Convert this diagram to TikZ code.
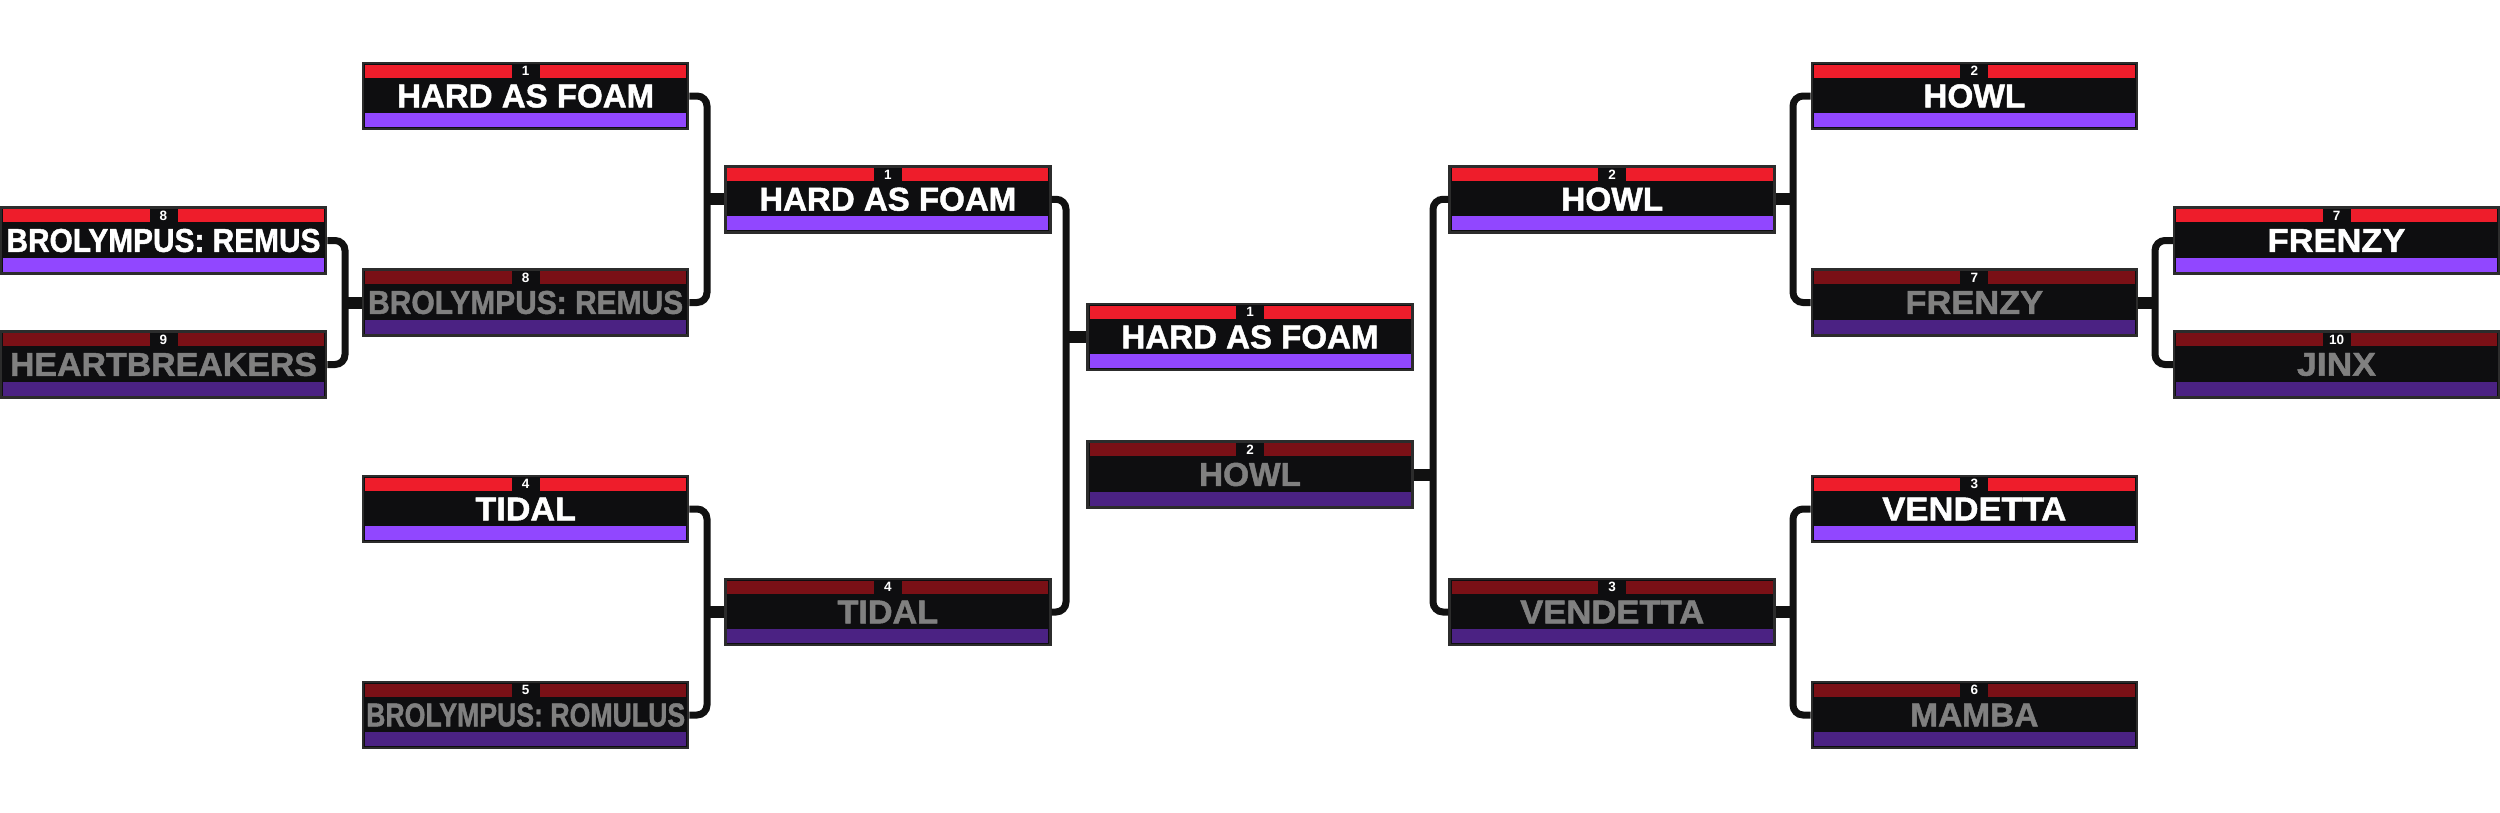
\documentclass[tikz,border=0pt]{standalone}
\usepackage{fontspec}
\setmainfont{Liberation Sans}
\newfontfamily\heavyface{Liberation Sans}[BoldFeatures={FakeBold=1.4}]
\usepackage{graphicx}
\usetikzlibrary{positioning}

\definecolor{redHi}{HTML}{EE1D2B}
\definecolor{redLo}{HTML}{7A1016}
\definecolor{purpleHi}{HTML}{9147FF}
\definecolor{purpleLo}{HTML}{4B2283}
\definecolor{boxFill}{HTML}{0E0E10}
\definecolor{boxEdge}{HTML}{2C2C2C}
\definecolor{nameLo}{HTML}{808080}
\definecolor{wire}{HTML}{111111}

\newcommand{\teamfont}{\heavyface\fontsize{33}{33}\selectfont\bfseries}
\newcommand{\seedfont}{\fontsize{13.5}{13.5}\selectfont\bfseries}
\newcommand{\fitname}[2]{\resizebox{#1pt}{\height}{#2}}

\begin{document}
\begin{tikzpicture}[x=1pt, y=1pt,
        teambox/.style n args={3}{rectangle, draw=boxEdge, fill=boxFill, line width=2.5pt,
            minimum width=325pt, minimum height=66pt, inner sep=0pt, text=#3, font=\teamfont,
            path picture={
                \fill[#1] ([xshift=2pt,yshift=-1.75pt]path picture bounding box.north west)
                    rectangle ([xshift=-2pt,yshift=-14.75pt]path picture bounding box.north east);
                \fill[#2] ([xshift=2pt,yshift=2pt]path picture bounding box.south west)
                    rectangle ([xshift=-2pt,yshift=16pt]path picture bounding box.south east);
            }},
        winner/.style={teambox={redHi}{purpleHi}{white}},
        loser/.style={teambox={redLo}{purpleLo}{nameLo}},
        seednode/.style={fill=boxFill, text=white, font=\seedfont, minimum width=28pt,
            minimum height=13pt, inner sep=0pt, outer sep=0pt},
        arm/.style={draw=wire, line width=7pt, rounded corners=10pt},
        stub/.style={draw=wire, line width=12pt},
    ]
    \useasboundingbox (0,0) rectangle (2500,-812);

    % Objects, left half
    \node[winner] (remusA) at (163.5,-240.5) {\fitname{314}{BROLYMPUS: REMUS}};
    \node[loser] (heartA) at (163.5,-364.5) {\fitname{307}{HEARTBREAKERS}};
    \node[winner] (foamB) at (525.7,-96) {\fitname{257}{HARD AS FOAM}};
    \node[loser] (remusB) at (525.7,-302.5) {\fitname{315}{BROLYMPUS: REMUS}};
    \node[winner] (tidalB) at (525.7,-509) {\fitname{100.5}{TIDAL}};
    \node[loser] (romulusB) at (525.7,-715) {\fitname{319}{BROLYMPUS: ROMULUS}};
    \node[winner] (foamC) at (887.8,-199.25) {\fitname{257}{HARD AS FOAM}};
    \node[loser] (tidalC) at (887.8,-612) {\fitname{100.5}{TIDAL}};
    \node[winner] (foamD) at (1250,-337) {\fitname{257}{HARD AS FOAM}};
    \node[loser] (howlD) at (1250,-474.5) {\fitname{102}{HOWL}};

    % Objects, right half
    \node[winner] (howlE) at (1612.2,-199.25) {\fitname{102}{HOWL}};
    \node[loser] (vendettaE) at (1612.2,-612) {\fitname{184}{VENDETTA}};
    \node[winner] (howlF) at (1974.3,-96) {\fitname{102}{HOWL}};
    \node[loser] (frenzyF) at (1974.3,-302.5) {\fitname{137.7}{FRENZY}};
    \node[winner] (vendettaF) at (1974.3,-509) {\fitname{184}{VENDETTA}};
    \node[loser] (mambaF) at (1974.3,-715) {\fitname{128.3}{MAMBA}};
    \node[winner] (frenzyG) at (2336.5,-240.5) {\fitname{137.7}{FRENZY}};
    \node[loser] (jinxG) at (2336.5,-364.5) {\fitname{79}{JINX}};

    % Seeds
    \foreach \team/\seed in {remusA/8, heartA/9, foamB/1, remusB/8, tidalB/4, romulusB/5,
            foamC/1, tidalC/4, foamD/1, howlD/2, howlE/2, vendettaE/3, howlF/2, frenzyF/7,
            vendettaF/3, mambaF/6, frenzyG/7, jinxG/10}
        \node[seednode, below=3pt of \team.north] (\team-seed) {\seed};

    % Joins
    \coordinate (joinAB) at (345,-302.5);
    \coordinate (joinBCtop) at (707,-199.25);
    \coordinate (joinBCbot) at (707,-612);
    \coordinate (joinCD) at (1066,-337);
    \coordinate (joinDE) at (1433,-474.5);
    \coordinate (joinEFtop) at (1793,-199.25);
    \coordinate (joinEFbot) at (1793,-612);
    \coordinate (joinFG) at (2155,-302.5);

    % Lines
    \draw[arm] (remusA.east) -| (joinAB) |- (heartA.east);
    \draw[stub] (joinAB) -- (remusB.west);
    \draw[arm] (foamB.east) -| (joinBCtop) |- (remusB.east);
    \draw[stub] (joinBCtop) -- (foamC.west);
    \draw[arm] (tidalB.east) -| (joinBCbot) |- (romulusB.east);
    \draw[stub] (joinBCbot) -- (tidalC.west);
    \draw[arm] (foamC.east) -| (joinCD) |- (tidalC.east);
    \draw[stub] (joinCD) -- (foamD.west);

    \draw[arm] (howlE.west) -| (joinDE) |- (vendettaE.west);
    \draw[stub] (howlD.east) -- (joinDE);
    \draw[arm] (howlF.west) -| (joinEFtop) |- (frenzyF.west);
    \draw[stub] (howlE.east) -- (joinEFtop);
    \draw[arm] (vendettaF.west) -| (joinEFbot) |- (mambaF.west);
    \draw[stub] (vendettaE.east) -- (joinEFbot);
    \draw[arm] (frenzyG.west) -| (joinFG) |- (jinxG.west);
    \draw[stub] (frenzyF.east) -- (joinFG);

\end{tikzpicture}
\end{document}
